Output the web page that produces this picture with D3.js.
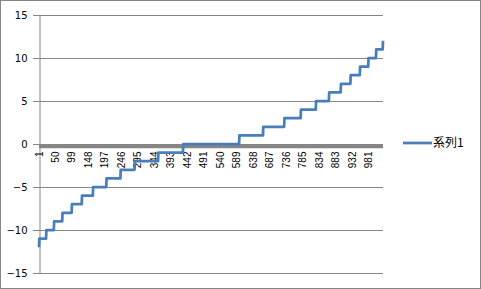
<!DOCTYPE html>
<html>
<head>
<meta charset="utf-8">
<script src="https://cdn.jsdelivr.net/npm/d3@7"></script>
<style>
  body { margin: 0; background: #fff; }
  svg { display: block; }
  text { font-family: "Liberation Sans", Arial, sans-serif; font-size: 10px; fill: #000; }
</style>
</head>
<body>
<svg width="481" height="289"></svg>
<script>
// series value of each step and the category where it starts
const stepValues = [-12, -11, -10, -9, -8, -7, -6, -5, -4, -3, -2, -1, 0, 1, 2, 3, 4, 5, 6, 7, 8, 9, 10, 11, 12];
const stepStarts = [1, 2, 23, 46, 71, 99, 129, 162, 202, 244, 286, 356, 430, 597, 668, 731, 780, 825, 864, 899, 928, 956, 981, 1004, 1024];
const pointCount = 1024;
const yTicks = [-15, -10, -5, 0, 5, 10, 15];
const xTickLabels = ["1", "50", "99", "148", "197", "246", "295", "344", "393", "442", "491", "540", "589", "638", "687", "736", "785", "834", "883", "932", "981"];
const seriesName = "系列1";

// expand the runs into one value per category
const series = [];
for (let i = 1; i <= pointCount; i++) {
  let j = 0;
  while (j + 1 < stepStarts.length && stepStarts[j + 1] <= i) j++;
  series.push({ cat: i, value: stepValues[j] });
}

const svg = d3.select("svg");
const gridColor = "#868686";
const lineColor = "#4a7ebb";

const x = d3.scaleLinear().domain([1, pointCount]).range([39, 383]);
const y = d3.scaleLinear().domain([-15, 15]).range([273, 15]);

// outer frame
svg.append("rect")
  .attr("x", 0.5).attr("y", 0.5)
  .attr("width", 480).attr("height", 288)
  .attr("fill", "none").attr("stroke", gridColor);

// grid lines (with the small outside tick)
svg.append("g")
  .selectAll("line")
  .data(yTicks)
  .enter()
  .append("line")
  .attr("x1", 33)
  .attr("x2", 383)
  .attr("y1", (d) => Math.round(y(d)) + 0.5)
  .attr("y2", (d) => Math.round(y(d)) + 0.5)
  .attr("stroke", gridColor);

// y axis
const yAxis = svg.append("g")
  .attr("transform", "translate(39.5,0.5)")
  .call(d3.axisLeft(y).tickValues(yTicks).tickSize(0).tickPadding(12));
yAxis.select(".domain").attr("stroke", gridColor);
yAxis.selectAll("text")
  .style("font-size", "10px")
  .style("font-family", "'DejaVu Sans', sans-serif")
  .attr("fill", "#000");

// thick zero axis
svg.append("line")
  .attr("x1", 39).attr("x2", 383)
  .attr("y1", y(0) + 2.2).attr("y2", y(0) + 2.2)
  .attr("stroke", "#868686")
  .attr("stroke-width", 4);

// category labels
svg.append("g")
  .selectAll("text")
  .data(xTickLabels)
  .enter()
  .append("text")
  .attr("transform", (d) => `translate(${x(+d)},151.5) rotate(-90)`)
  .attr("text-anchor", "end")
  .attr("dy", "0.35em")
  .text((d) => d);

// series line
const line = d3.line()
  .x((d) => x(d.cat))
  .y((d) => y(d.value));

svg.append("path")
  .datum(series)
  .attr("fill", "none")
  .attr("stroke", lineColor)
  .attr("stroke-width", 2.75)
  .attr("stroke-linejoin", "round")
  .attr("d", line);

// legend
const legend = svg.append("g").attr("transform", "translate(403,143)");
legend.append("line")
  .attr("x1", 0).attr("x2", 29)
  .attr("stroke", lineColor)
  .attr("stroke-width", 2.75);
legend.append("text")
  .attr("x", 30)
  .attr("dy", "0.35em")
  .style("font-family", "'Noto Sans CJK JP', sans-serif")
  .style("font-size", "12px")
  .text(seriesName);
</script>
</body>
</html>
